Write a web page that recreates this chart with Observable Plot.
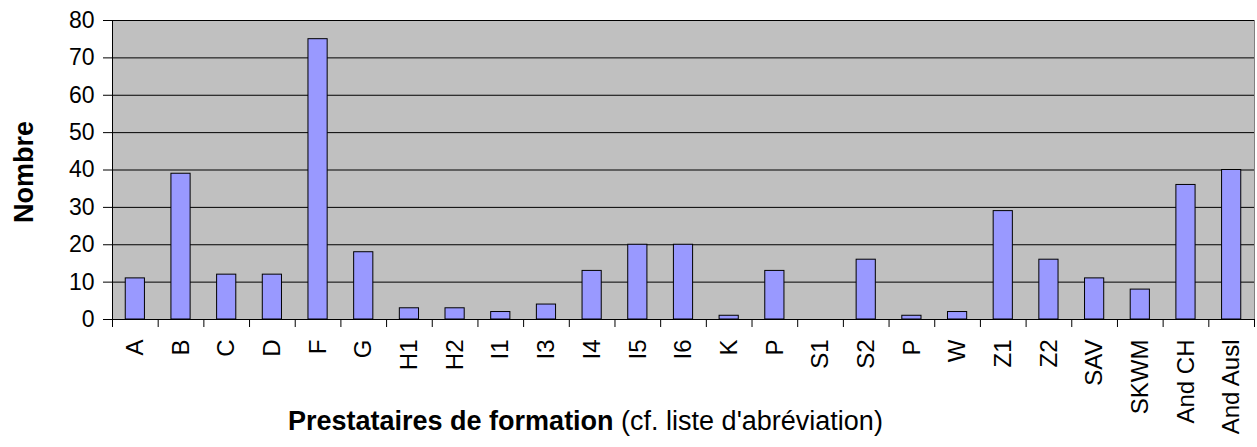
<!DOCTYPE html>
<html>
<head>
<meta charset="utf-8">
<script src="https://cdn.jsdelivr.net/npm/d3@7"></script>
<script src="https://cdn.jsdelivr.net/npm/@observablehq/plot@0.6"></script>
<style>
  html, body { margin: 0; padding: 0; background: #fff; }
  #chart svg { display: block; }
</style>
</head>
<body>
<div id="chart"></div>
<script>
const categories = ["A","B","C","D","F","G","H1","H2","I1","I3","I4","I5","I6","K","P","S1","S2","P","W","Z1","Z2","SAV","SKWM","And CH","And Ausl"];
const values = [11,39,12,12,75,18,3,3,2,4,13,20,20,1,13,0,16,1,2,29,16,11,8,36,40];
const yTicks = [0,10,20,30,40,50,60,70,80];
const yTitle = "Nombre";
const xTitleBold = "Prestataires de formation";
const xTitleRest = " (cf. liste d'abréviation)";

const data = categories.map((c, i) => ({key: i, label: c, value: values[i]}));
const keys = data.map(d => d.key);

const W = 1257, H = 447;
const mL = 112, mR = 3, mT = 20, mB = 128;
const step = (W - mL - mR) / keys.length;
const barInset = step * 0.29;
const font = "'Liberation Sans', Arial, sans-serif";
const tickLen = 8 * 80 / (H - mT - mB);

const chart = Plot.plot({
  width: W,
  height: H,
  marginLeft: mL,
  marginRight: mR,
  marginTop: mT,
  marginBottom: mB,
  style: {fontFamily: font, fontSize: "23px", color: "#000", background: "#fff", overflow: "visible"},
  x: {type: "band", domain: keys, padding: 0, round: false},
  y: {domain: [0, 80]},
  marks: [
    Plot.frame({fill: "#C0C0C0", stroke: "#808080", strokeWidth: 1}),
    Plot.gridY(yTicks, {stroke: "#000", strokeOpacity: 1, strokeWidth: 1}),
    Plot.barY(data, {x: "key", y: "value", fill: "#9999FF", stroke: "#000", strokeWidth: 1, insetLeft: barInset, insetRight: barInset}),
    Plot.ruleY([0], {stroke: "#000", strokeWidth: 1}),
    Plot.ruleX([keys[0]], {x: d => d, y1: 0, y2: 80, dx: -step / 2, stroke: "#000"}),
    Plot.ruleX(keys, {x: d => d, y1: 0, y2: -tickLen, dx: -step / 2, stroke: "#000"}),
    Plot.ruleX([keys[keys.length - 1]], {x: d => d, y1: 0, y2: -tickLen, dx: step / 2, stroke: "#000"}),
    Plot.axisY(yTicks, {tickSize: 9, tickPadding: 9, label: null, fontSize: 23, stroke: "#000"}),
    Plot.axisX(keys, {tickSize: 0, tickPadding: 20, tickRotate: -90, label: null, fontSize: 24, tickFormat: i => categories[i]})
  ]
});

const svg = d3.select(chart);
svg.append("text")
  .attr("transform", "translate(33,172) rotate(-90)")
  .attr("text-anchor", "middle")
  .attr("font-family", font)
  .attr("font-size", 27)
  .attr("font-weight", "bold")
  .attr("fill", "#000")
  .text(yTitle);

const t = svg.append("text")
  .attr("x", 288)
  .attr("y", 430)
  .attr("text-anchor", "start")
  .attr("font-family", font)
  .attr("font-size", 27)
  .attr("fill", "#000");
t.append("tspan").attr("font-weight", "bold").text(xTitleBold);
t.append("tspan").text(xTitleRest);

document.getElementById("chart").appendChild(chart);
</script>
</body>
</html>
